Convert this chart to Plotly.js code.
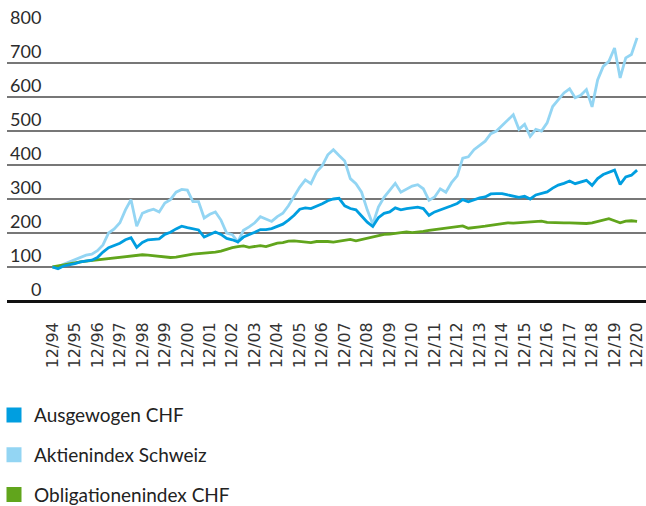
<!DOCTYPE html>
<html>
<head>
<meta charset="utf-8">
<script src="https://cdn.plot.ly/plotly-3.0.1.min.js"></script>
<style>
html,body{margin:0;padding:0;background:#fff;}
#chart{width:646px;height:506px;}
</style>
</head>
<body>
<div id="chart"></div>
<script>
// Quarterly observations, Dec 1994 (=100) to Dec 2020
var startYear = 1995, endYear = 2020;
var quarterMonths = ["03-31", "06-30", "09-30", "12-31"];

var ausgewogenCHF = [100,
  95, 103, 106, 110,
  115, 118, 120, 128,
  144, 157, 163, 170,
  180, 186, 158, 172,
  180, 182, 183, 196,
  202, 212, 220, 216,
  212, 209, 188, 196,
  203, 196, 184, 180,
  174, 188, 194, 202,
  210, 210, 213, 220,
  226, 238, 252, 270,
  274, 272, 278, 286,
  295, 300, 302, 280,
  272, 268, 250, 232,
  219, 245, 258, 262,
  274, 268, 272, 274,
  276, 272, 252, 262,
  268, 272, 280, 287,
  298, 292, 298, 303,
  306, 315, 316, 316,
  312, 308, 305, 308,
  300, 312, 316, 321,
  332, 341, 346, 353,
  345, 350, 355, 340,
  360, 372, 378, 385,
  343, 365, 370, 385];

var aktienindexSchweiz = [100,
  100, 108, 115, 122,
  130, 135, 138, 148,
  165, 200, 212, 230,
  268, 298, 220, 258,
  265, 270, 262, 288,
  298, 320, 328, 326,
  292, 292, 244, 255,
  262, 238, 200, 195,
  174, 208, 218, 230,
  248, 242, 234, 248,
  258, 280, 308, 335,
  356, 345, 380, 398,
  430, 445, 428, 412,
  360, 345, 320, 268,
  226, 276, 305, 326,
  346, 320, 330, 338,
  342, 330, 296, 306,
  330, 320, 348, 368,
  420, 424, 445, 458,
  470, 492, 500, 516,
  532, 548, 505, 520,
  484, 505, 500, 524,
  572, 592, 612, 624,
  598, 605, 622, 571,
  650, 690, 705, 744,
  656, 715, 725, 774];

var obligationenindexCHF = [100,
  103, 108, 110, 113,
  115, 117, 119, 121,
  122, 124, 126, 128,
  131, 133, 136, 136,
  135, 133, 130, 129,
  128, 129, 131, 135,
  138, 139, 142, 143,
  144, 147, 153, 157,
  160, 162, 158, 160,
  163, 160, 165, 170,
  172, 176, 177, 176,
  174, 172, 175, 176,
  175, 173, 176, 178,
  181, 177, 181, 186,
  189, 192, 196, 197,
  199, 200, 203, 201,
  202, 205, 208, 210,
  211, 213, 216, 219,
  221, 214, 217, 218,
  220, 222, 225, 228,
  230, 229, 230, 231,
  232, 234, 235, 231,
  230, 231, 230, 230,
  229, 229, 228, 230,
  234, 238, 242, 236,
  230, 235, 236, 234];

var seriesNames = ["Ausgewogen CHF", "Aktienindex Schweiz", "Obligationenindex CHF"];
var seriesColors = ["#009ee0", "#93d5f3", "#61a51c"];

var xTickVals = [];
var xTickText = ["12/94","12/95","12/96","12/97","12/98","12/99","12/00","12/01","12/02","12/03","12/04","12/05","12/06","12/07","12/08","12/09","12/10","12/11","12/12","12/13","12/14","12/15","12/16","12/17","12/18","12/19","12/20"];
var yTickVals = [0, 100, 200, 300, 400, 500, 600, 700, 800];

// build date axis
var dates = ["1994-12-31"];
for (var yr = startYear; yr <= endYear; yr++) {
  for (var q = 0; q < 4; q++) dates.push(yr + "-" + quarterMonths[q]);
}
for (var y2 = 1994; y2 <= 2020; y2++) xTickVals.push(y2 + "-12-31");

var lineData = [aktienindexSchweiz, obligationenindexCHF, ausgewogenCHF];
var lineIdx = [1, 2, 0];
var traces = [];
lineIdx.forEach(function (k, i) {
  traces.push({
    type: "scatter", mode: "lines", x: dates, y: lineData[i],
    name: seriesNames[k], showlegend: false,
    line: {color: seriesColors[k], width: 2.8},
    hoverinfo: "skip"
  });
});
// legend entries (square swatches)
seriesNames.forEach(function (n, k) {
  traces.push({
    type: "scatter", mode: "markers", x: [null], y: [null],
    name: n, legendgroup: "g" + k, showlegend: true,
    marker: {symbol: "square", size: 15, color: seriesColors[k]}
  });
});

var annotations = yTickVals.map(function (v) {
  return {
    xref: "paper", yref: "y", x: 0.057, y: v,
    xanchor: "right", yanchor: "bottom", yshift: -1,
    text: String(v), showarrow: false,
    font: {family: "Lato, sans-serif", size: 18, color: "#2b2b2b"}
  };
});

var layout = {
  width: 646, height: 506,
  margin: {l: 7, r: 0, t: 29, b: 205, pad: 0},
  paper_bgcolor: "#fff", plot_bgcolor: "#fff",
  showlegend: true,
  xaxis: {
    type: "date",
    range: ["1992-12-23", "2021-05-25"],
    tickvals: xTickVals, ticktext: xTickText,
    tickangle: -90, ticks: "", showgrid: false, zeroline: false, showline: false,
    ticklabelstandoff: 17, ticklabeloverflow: "allow",
    tickfont: {family: "DejaVu Sans, sans-serif", size: 16, color: "#333"},
    fixedrange: true
  },
  yaxis: {
    range: [0, 800], tickvals: yTickVals, showticklabels: false,
    ticks: "", showgrid: true, gridcolor: "#777", gridwidth: 1.5,
    zeroline: true, zerolinecolor: "#111", zerolinewidth: 3,
    showline: false, fixedrange: true
  },
  annotations: annotations,
  legend: {
    orientation: "v", xref: "paper", yref: "container",
    x: -0.031, xanchor: "left", y: 0.217, yanchor: "top",
    indentation: -6,
    tracegroupgap: 12, bgcolor: "rgba(0,0,0,0)",
    font: {family: "Lato, sans-serif", size: 19, color: "#222"}
  }
};

Plotly.newPlot("chart", traces, layout, {staticPlot: true, displayModeBar: false});
</script>
</body>
</html>
